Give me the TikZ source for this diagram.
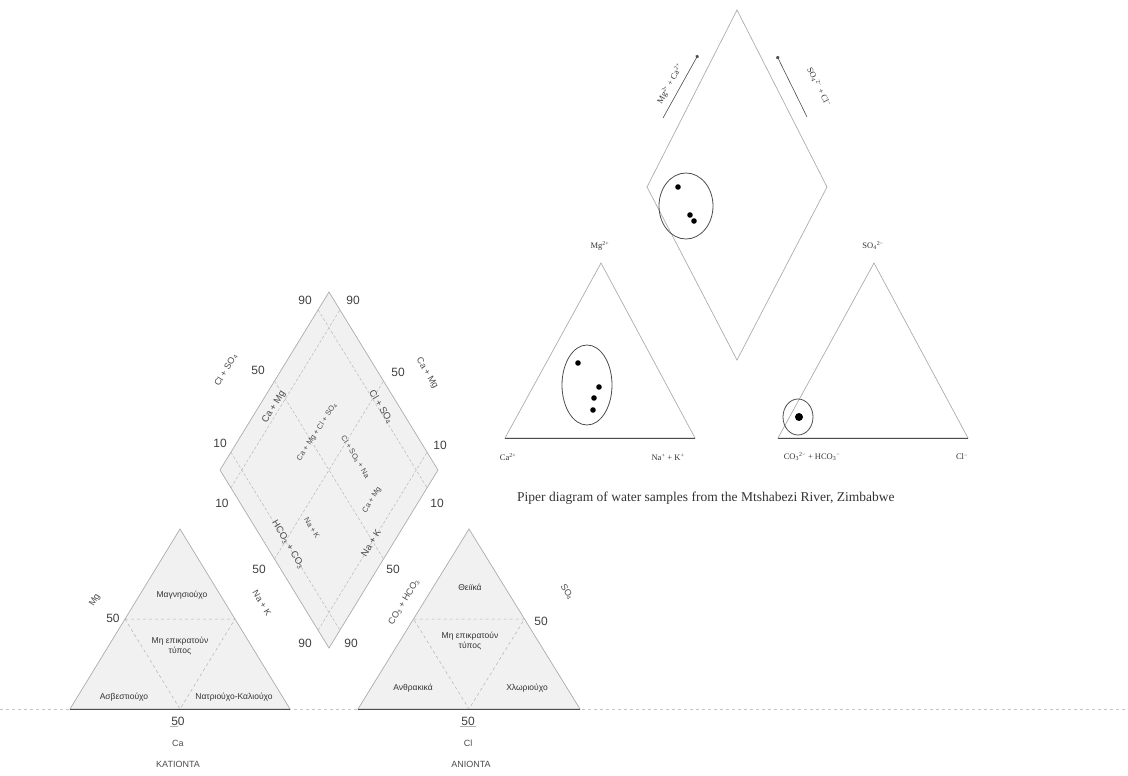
\documentclass[tikz,border=0pt]{standalone}
\usepackage{fontspec}
\setmainfont{Liberation Sans}
\newfontfamily\timesrm{Liberation Serif}
\usepackage{tikz}
\usetikzlibrary{calc,arrows.meta}

\begin{document}
\begin{tikzpicture}[x=1pt,y=-1pt,
  side line/.style={draw=gray!65,line width=0.7pt},
  floor line/.style={draw=gray!60!black,line width=0.9pt},
  split line/.style={draw=gray!60,dashed,line width=0.5pt},
  grid line/.style={draw=gray!55,densely dashed,line width=0.5pt},
  dot zone/.style={fill=gray!11},
  num node/.style={font=\fontsize{12}{12}\selectfont,text=black!75,inner sep=1pt},
  axis node/.style={font=\fontsize{9}{10}\selectfont,text=black!70,inner sep=1pt},
  inner node/.style={font=\fontsize{9.5}{10}\selectfont,text=black!70,inner sep=0.5pt},
  small node/.style={font=\fontsize{7.5}{8}\selectfont,text=black!70,inner sep=0.5pt},
  zone node/.style={font=\fontsize{8.5}{9.5}\selectfont,align=center,text=black!80,inner sep=1pt},
  piper node/.style={font=\timesrm\fontsize{8.5}{9}\selectfont,text=black!80,inner sep=1pt},
  arrow line/.style={draw=gray!60!black,line width=0.6pt,-{Circle[length=3.5pt]}},
  sample ring/.style={draw=gray!60!black,line width=0.8pt},
  sample dot/.style={fill=black}]
\useasboundingbox (0,0) rectangle (1128,776);

% long base line of the page
\coordinate (p0) at (0,709);
\coordinate (p1) at (1128,709);
\draw[gray!45,dashed,line width=0.6pt] (p0) -- (p1);

% ---- cation triangle (ΚΑΤΙΟΝΤΑ)
\coordinate (kA) at (70,709);
\coordinate (kB) at (290,709);
\coordinate (kC) at (180,529);
\filldraw[dot zone,side line] (kA) -- (kB) -- (kC) -- cycle;
\draw[floor line] (kA) -- (kB);
\draw[split line] ($(kA)!.5!(kC)$) -- ($(kB)!.5!(kC)$) -- ($(kA)!.5!(kB)$) -- cycle;
\node[zone node] (k1) at (182,595) {Μαγνησιούχο};
\node[zone node] (k2) at (180,646) {Μη επικρατούν\\τύπος};
\node[zone node] (k3) at (124,697) {Ασβεστιούχο};
\node[zone node] (k4) at (234,697) {Νατριούχο-Καλιούχο};
\node[num node]  (k5) at (113,618) {50};
\node[num node]  (k6) at (178,721) {50};
\draw[gray!60] (k6.south west) -- (k6.south);
\node[axis node] (k7) at (178,743) {Ca};
\node[axis node] (k8) at (178,764) {ΚΑΤΙΟΝΤΑ};
\node[axis node,rotate=59]  (k9)  at (95,600) {Mg};
\node[axis node,rotate=-59] (k10) at (262,603) {Na + K};

% ---- anion triangle (ΑΝΙΟΝΤΑ)
\coordinate (aA) at (358,709);
\coordinate (aB) at (580,709);
\coordinate (aC) at (469,529);
\filldraw[dot zone,side line] (aA) -- (aB) -- (aC) -- cycle;
\draw[floor line] (aA) -- (aB);
\draw[split line] ($(aA)!.5!(aC)$) -- ($(aB)!.5!(aC)$) -- ($(aA)!.5!(aB)$) -- cycle;
\node[zone node] (a1) at (470,587) {Θειϊκά};
\node[zone node] (a2) at (470,641) {Μη επικρατούν\\τύπος};
\node[zone node] (a3) at (413,688) {Ανθρακικά};
\node[zone node] (a4) at (527,688) {Χλωριούχο};
\node[num node]  (a5) at (541,621) {50};
\node[num node]  (a6) at (468,721) {50};
\draw[gray!60] (a6.south west) -- (a6.south east);
\node[axis node] (a7) at (468,743) {Cl};
\node[axis node] (a8) at (471,764) {ΑΝΙΟΝΤΑ};
\node[axis node,rotate=59]  (a9)  at (404,602) {CO\textsubscript{3} + HCO\textsubscript{3}};
\node[axis node,rotate=-59] (a10) at (567,592) {SO\textsubscript{4}};

% ---- diamond
\coordinate (dT) at (329,292);
\coordinate (dL) at (220,470);
\coordinate (dB) at (329,648);
\coordinate (dR) at (438,470);
\filldraw[dot zone,side line] (dT) -- (dR) -- (dB) -- (dL) -- cycle;
\draw[grid line] ($(dL)!.1!(dT)$) -- ($(dB)!.1!(dR)$);
\draw[grid line] ($(dL)!.5!(dT)$) -- ($(dB)!.5!(dR)$);
\draw[grid line] ($(dL)!.9!(dT)$) -- ($(dB)!.9!(dR)$);
\draw[grid line] ($(dL)!.1!(dB)$) -- ($(dT)!.1!(dR)$);
\draw[grid line] ($(dL)!.5!(dB)$) -- ($(dT)!.5!(dR)$);
\draw[grid line] ($(dL)!.9!(dB)$) -- ($(dT)!.9!(dR)$);
\node[num node] (d1)  at (305,300) {90};
\node[num node] (d2)  at (353,300) {90};
\node[num node] (d3)  at (258,370) {50};
\node[num node] (d4)  at (398,372) {50};
\node[num node] (d5)  at (220,443) {10};
\node[num node] (d6)  at (440,445) {10};
\node[num node] (d7)  at (222,503) {10};
\node[num node] (d8)  at (437,503) {10};
\node[num node] (d9)  at (259,569) {50};
\node[num node] (d10) at (393,569) {50};
\node[num node] (d11) at (305,643) {90};
\node[num node] (d12) at (351,643) {90};
\node[axis node,rotate=59]  (d13) at (226,370) {Cl + SO\textsubscript{4}};
\node[axis node,rotate=-59] (d14) at (427,373) {Ca + Mg};
\node[inner node,rotate=59]  (d15) at (274,407) {Ca + Mg};
\node[inner node,rotate=-59] (d16) at (381,407) {Cl + SO\textsubscript{4}};
\node[inner node,rotate=-59] (d17) at (288,545) {HCO\textsubscript{3} + CO\textsubscript{3}};
\node[inner node,rotate=59]  (d18) at (371,543) {Na + K};
\node[small node,rotate=57]  (d19) at (317,432) {Ca + Mg + Cl + SO\textsubscript{4}};
\node[small node,rotate=-59] (d20) at (355,457) {Cl + SO\textsubscript{4} + Na};
\node[small node,rotate=59]  (d21) at (372,500) {Ca + Mg};
\node[small node,rotate=-59] (d22) at (312,528) {Na + K};

% ---- Piper diagram (right)
\coordinate (cA) at (505,438);
\coordinate (cB) at (695,438);
\coordinate (cC) at (601,263);
\coordinate (nA) at (778,438);
\coordinate (nB) at (968,438);
\coordinate (nC) at (874,263);
\coordinate (mT) at (737,10);
\coordinate (mL) at (647,187);
\coordinate (mB) at (737,360);
\coordinate (mR) at (827,187);
\draw[side line] (cA) -- (cB) -- (cC) -- cycle;
\draw[side line] (nA) -- (nB) -- (nC) -- cycle;
\draw[side line] (mT) -- (mR) -- (mB) -- (mL) -- cycle;
\draw[floor line] (cA) -- (cB);
\draw[floor line] (nA) -- (nB);

\coordinate (q1) at (663,118);
\coordinate (q2) at (698,55);
\coordinate (q3) at (807,117);
\coordinate (q4) at (777,56);
\draw[arrow line] (q1) -- (q2);
\draw[arrow line] (q3) -- (q4);
\node[piper node,rotate=61]  (r1) at (670,84) {Mg\textsuperscript{2+} + Ca\textsuperscript{2+}};
\node[piper node,rotate=-63] (r2) at (819,87) {SO\textsubscript{4}\textsuperscript{2−} + Cl\textsuperscript{−}};
\node[piper node] (r3) at (600,246) {Mg\textsuperscript{2+}};
\node[piper node] (r4) at (873,246) {SO\textsubscript{4}\textsuperscript{2−}};
\node[piper node] (r5) at (508,457) {Ca\textsuperscript{2+}};
\node[piper node] (r6) at (668,457) {Na\textsuperscript{+} + K\textsuperscript{+}};
\node[piper node] (r7) at (812,457) {CO\textsubscript{3}\textsuperscript{2−} + HCO\textsubscript{3}\textsuperscript{−}};
\node[piper node] (r8) at (962,457) {Cl\textsuperscript{−}};
\node[piper node,anchor=west,font=\timesrm\fontsize{13.5}{14}\selectfont] (r9) at (516,498)
  {Piper diagram of water samples from the Mtshabezi River, Zimbabwe};

% sample groups
\draw[sample ring] (587,385) ellipse [x radius=25pt, y radius=40pt];
\fill[sample dot] (578,363) circle [radius=2.8pt];
\fill[sample dot] (599,387) circle [radius=2.8pt];
\fill[sample dot] (594,398) circle [radius=2.8pt];
\fill[sample dot] (593,410) circle [radius=2.8pt];
\draw[sample ring] (686,206) ellipse [x radius=27pt, y radius=33pt];
\fill[sample dot] (678,187) circle [radius=2.8pt];
\fill[sample dot] (690,215) circle [radius=2.8pt];
\fill[sample dot] (694,221) circle [radius=2.8pt];
\draw[sample ring] (798,417) ellipse [x radius=15pt, y radius=18pt];
\fill[sample dot] (799,417) circle [radius=4pt];
\end{tikzpicture}
\end{document}
